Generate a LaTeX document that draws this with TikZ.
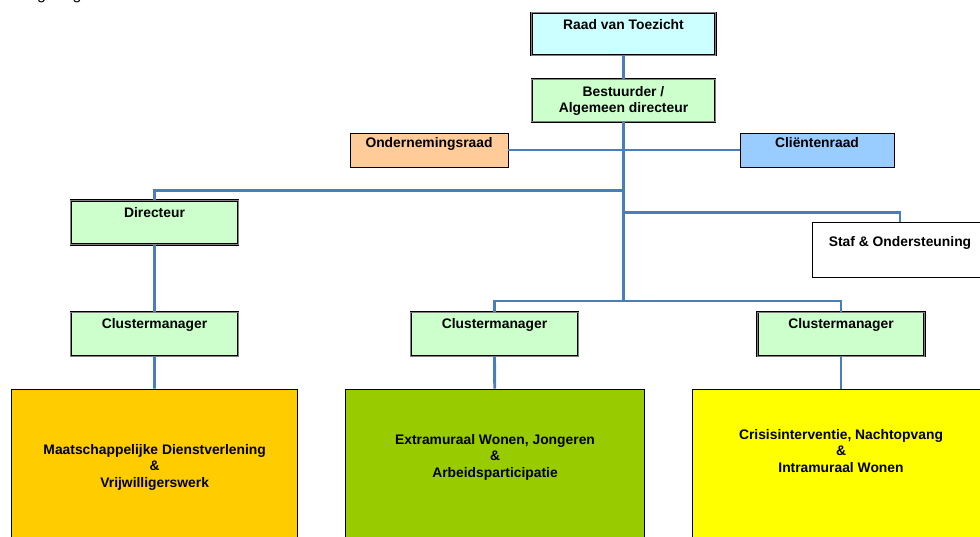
\documentclass[tikz,border=0pt]{standalone}
\usepackage{fontspec}
\setmainfont{Liberation Sans}
\usetikzlibrary{calc}

\definecolor{lineblue}{HTML}{4A7EBB}
\definecolor{raadcyan}{HTML}{CCFFFF}
\definecolor{mgrgreen}{HTML}{CCFFCC}
\definecolor{orpeach}{HTML}{FFCC99}
\definecolor{crblue}{HTML}{99CCFF}
\definecolor{mdorange}{HTML}{FFCC00}
\definecolor{ewgreen}{HTML}{99CC00}
\definecolor{ciyellow}{HTML}{FFFF00}

\tikzset{
  mgrbox/.style={draw=black, double=gray, double distance=0.7pt, line width=0.4pt,
    fill=mgrgreen, minimum width=4.175cm, minimum height=1.1cm, inner sep=0pt},
  plainbox/.style={draw=black, line width=0.5pt, inner sep=0pt},
  clusterbox/.style={plainbox, minimum height=5.5cm},
  txt/.style={font=\fontsize{9.85}{11.4}\selectfont\bfseries, align=center, inner sep=0pt},
  link/.style={draw=lineblue, line width=2pt},
}

\begin{document}
\begin{tikzpicture}[x=0.025cm, y=-0.025cm]
  \useasboundingbox (0,0) rectangle (980,537);

  % Title, cut off by the top edge
  \node[anchor=base west, font=\fontsize{11.4}{13}\selectfont, inner sep=0pt] (title) at (19,-0.4) {Organogram};

  % Define boxes
  \node[mgrbox, fill=raadcyan, minimum width=4.6cm, minimum height=1.05cm] (rvt) at (623.5,34) {};
  \node[mgrbox, minimum width=4.575cm, minimum height=1.06cm] (best) at (623.5,100.5) {};
  \node[plainbox, fill=orpeach, minimum width=3.95cm, minimum height=0.85cm] (or) at (429,150) {};
  \node[plainbox, fill=crblue, minimum width=3.85cm, minimum height=0.85cm] (cr) at (817,150) {};
  \node[mgrbox] (dir) at (154.5,222.5) {};
  \node[plainbox, fill=white, minimum width=4.4cm, minimum height=1.375cm] (staf) at (900,250.3) {};
  \node[mgrbox] (cm1) at (154.5,334) {};
  \node[mgrbox] (cm2) at (494.5,334) {};
  \node[mgrbox] (cm3) at (841,334) {};
  \node[clusterbox, fill=mdorange, minimum width=7.15cm] (cl1) at (154.7,499) {};
  \node[clusterbox, fill=ewgreen, minimum width=7.465cm] (cl2) at (495,499) {};
  \node[clusterbox, fill=ciyellow, minimum width=7.435cm] (cl3) at (841,499) {};

  % Texts
  \node[txt, anchor=base] (rvt-t) at ($(rvt.north)+(0,17)$) {Raad van Toezicht};
  \node[txt, anchor=north] (best-t) at ($(best.north)+(0,7.5)$) {Bestuurder /\\Algemeen directeur};
  \node[txt, anchor=base] (or-t) at ($(or.north)+(0,14.5)$) {Ondernemingsraad};
  \node[txt, anchor=base] (cr-t) at ($(cr.north)+(0,14.5)$) {Cliëntenraad};
  \node[txt, anchor=base] (dir-t) at ($(dir.north)+(0,17.3)$) {Directeur};
  \node[txt, anchor=base] (staf-t) at ($(staf.north)+(0,24)$) {Staf \& Ondersteuning};
  \foreach \i in {1,2,3} {
    \node[txt, anchor=base] (cm\i-t) at ($(cm\i.north)+(0,17)$) {Clustermanager};
  }
  \node[txt, anchor=north] (cl1-t) at ($(cl1.north)+(0,56)$) {Maatschappelijke Dienstverlening\\\&\\Vrijwilligerswerk};
  \node[txt, anchor=north] (cl2-t) at ($(cl2.north)+(0,46)$) {Extramuraal Wonen, Jongeren\\\&\\Arbeidsparticipatie};
  \node[txt, anchor=north] (cl3-t) at ($(cl3.north)+(0,41)$) {Crisisinterventie, Nachtopvang\\\&\\Intramuraal Wonen};

  % Junctions on the trunk
  \coordinate (dirj) at (623.5,190.7);
  \coordinate (stafj) at (623.5,212.7);
  \coordinate (cmj) at (623.5,301);

  % Draw lines
  \draw[link] (rvt) -- (best);
  \draw[link] (best) -- (cmj);
  \draw[link] (or) -- (cr);
  \draw[link] (dirj) -| (dir);
  \draw[link] (stafj) -| (staf);
  \draw[link] (cm2) |- (cmj) -| (cm3);
  \draw[link] (dir) -- (cm1);
  \foreach \i in {1,2,3} {
    \draw[link] (cm\i) -- (cl\i);
  }

\end{tikzpicture}
\end{document}
